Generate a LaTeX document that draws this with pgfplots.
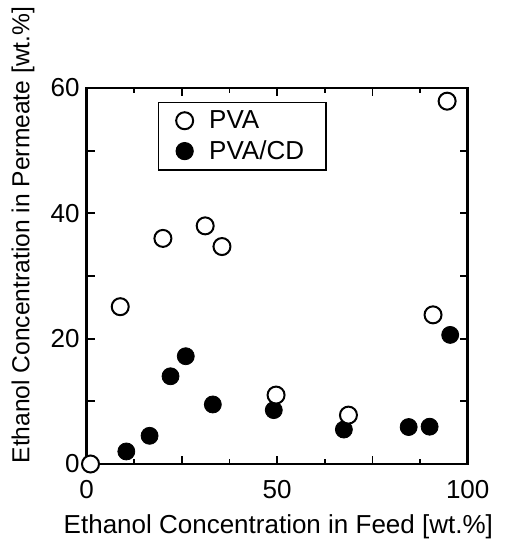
\documentclass[border=0pt]{standalone}
\usepackage{fontspec}
\setmainfont{Liberation Sans}
\usepackage{pgfplots}
\pgfplotsset{compat=1.18}
\usetikzlibrary{calc}

\pgfplotstableread{
x y
1.0 0.0
8.8 25.1
20.0 36.0
31.1 38.0
35.5 34.7
49.7 11.0
68.7 7.8
90.9 23.8
94.6 57.9
}\pva

\pgfplotstableread{
x y
10.4 2.0
16.5 4.5
22.0 14.0
26.0 17.2
33.1 9.5
49.1 8.6
67.5 5.5
84.5 5.9
90.0 5.95
95.4 20.6
}\pvacd

\begin{document}
\begin{tikzpicture}
\begin{axis}[
  name=ax, scale only axis, width=190.5pt, height=188pt,
  xmin=0, xmax=100, ymin=0, ymax=60,
  xtick={0,25,50,75,100}, xticklabels={0,,50,,100}, minor x tick num=1,
  ytick={0,10,...,60}, yticklabels={0,,20,,40,,60},
  tick align=inside, major tick length=4pt, minor tick length=2.5pt,
  axis line style={line width=1.4pt},
  every tick/.style={line width=0.9pt, black},
  font=\fontsize{13}{15}\selectfont,
  /pgf/number format/assume math mode=true,
  xticklabel style={anchor=base, yshift=-17pt},
  xlabel={Ethanol Concentration in Feed [wt.\%]},
  ylabel={Ethanol Concentration in Permeate [wt.\%]},
  xlabel style={at={(axis description cs:0.503,-0.186)}, anchor=base},
  ylabel style={at={(axis description cs:-0.167,0.609)}, anchor=center,
                font=\fontsize{12.3}{14}\selectfont},
  clip=false,
  legend cell align=left,
  legend style={at={(rel axis cs:0.186,0.9636)}, anchor=north west,
                draw=black, line width=0.6pt, row sep=0.5pt,
                column sep=6pt, inner xsep=9pt,
                font=\fontsize{13}{15}\selectfont,
                nodes={inner xsep=2pt}},
]
\addplot[only marks, mark=*, mark size=4.25pt,
  mark options={fill=black, draw=black}, forget plot] table {\pvacd};
\addplot[only marks, mark=*, mark size=4.25pt,
  mark options={fill=white, draw=black, line width=1pt}, forget plot] table {\pva};
\addlegendimage{only marks, mark=*, mark size=4.25pt,
  mark options={fill=white, draw=black, line width=1pt}}
\addlegendentry{PVA}
\addlegendimage{only marks, mark=*, mark size=4.25pt,
  mark options={fill=black, draw=black}}
\addlegendentry{PVA/CD}
\end{axis}
\pgfresetboundingbox
\useasboundingbox ($(ax.south west)+(-43.35pt,-40pt)$) rectangle ($(ax.south west)+(209.15pt,232pt)$);
\end{tikzpicture}
\end{document}
